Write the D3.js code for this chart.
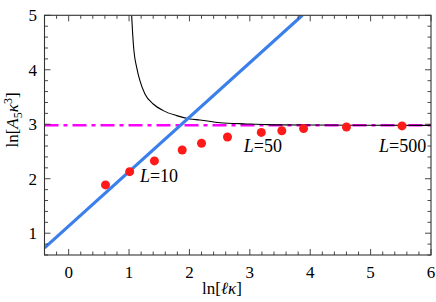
<!DOCTYPE html>
<html>
<head>
<meta charset="utf-8">
<script src="https://cdn.jsdelivr.net/npm/d3@7"></script>
<style>
  body { margin: 0; background: #fff; }
  text { font-family: "Liberation Serif", "Times New Roman", serif; fill: #000; }
</style>
</head>
<body>
<div id="chart"></div>
<script>
// measured data (ln[l kappa], ln[A5 kappa^3])
const pointX = [0.61, 1.01, 1.42, 1.88, 2.2, 2.63, 3.19, 3.53, 3.89, 4.6, 5.52];
const pointY = [1.886, 2.13, 2.327, 2.528, 2.651, 2.767, 2.85, 2.88, 2.92, 2.95, 2.97];

const curveX = [1.043, 1.06, 1.081, 1.126, 1.18, 1.263, 1.4, 1.566, 1.788, 2.008, 2.174, 2.505, 2.947, 3.278, 4.0, 5.0, 6.0];
const curveY = [5.0, 4.657, 4.35, 4.046, 3.8, 3.556, 3.372, 3.25, 3.158, 3.097, 3.079, 3.029, 3.006, 2.993, 2.985, 2.982, 2.98];

const lineX = [-0.4, 3.87];
const lineY = [0.73, 5.0];

const plateau = 2.98;

const xTicks = [0, 1, 2, 3, 4, 5, 6];
const yTicks = [1, 2, 3, 4, 5];

const labels = [
    { text: '10', x: 1.18, y: 1.947 },
    { text: '50', x: 2.9, y: 2.486 },
    { text: '500', x: 5.14, y: 2.486 }
];

const width = 436, height = 302;
const frame = { left: 44.5, right: 431, top: 15.3, bottom: 255 };

const svg = d3.select('#chart').append('svg')
    .attr('width', width)
    .attr('height', height);

const x = d3.scaleLinear().domain([-0.4, 6]).range([frame.left, frame.right]);
const y = d3.scaleLinear().domain([0.6, 5]).range([frame.bottom, frame.top]);

svg.append('clipPath').attr('id', 'clip')
    .append('rect')
    .attr('x', frame.left).attr('y', frame.top)
    .attr('width', frame.right - frame.left).attr('height', frame.bottom - frame.top);

const plot = svg.append('g').attr('clip-path', 'url(#clip)');

// dash-dot plateau
plot.append('line')
    .attr('x1', x(-0.4)).attr('x2', x(6))
    .attr('y1', y(plateau)).attr('y2', y(plateau))
    .attr('stroke', '#ff00ff')
    .attr('stroke-width', 2.5)
    .attr('stroke-dasharray', '14,5,4,5');

// black curve
plot.append('path')
    .datum(curveX.map((d, i) => [d, curveY[i]]))
    .attr('fill', 'none')
    .attr('stroke', '#000')
    .attr('stroke-width', 1.1)
    .attr('d', d3.line().x(d => x(d[0])).y(d => y(d[1])).curve(d3.curveMonotoneX));

// blue line
plot.append('path')
    .datum(lineX.map((d, i) => [d, lineY[i]]))
    .attr('fill', 'none')
    .attr('stroke', '#3a7fec')
    .attr('stroke-width', 3.2)
    .attr('d', d3.line().x(d => x(d[0])).y(d => y(d[1])));

// red points
plot.selectAll('.pt')
    .data(pointX.map((d, i) => [d, pointY[i]]))
    .enter().append('circle')
    .attr('class', 'pt')
    .attr('cx', d => x(d[0]))
    .attr('cy', d => y(d[1]))
    .attr('r', 4.5)
    .attr('fill', '#ff1a1a');

// L labels
const lab = svg.selectAll('.lab').data(labels).enter().append('text')
    .attr('class', 'lab')
    .attr('x', d => x(d.x))
    .attr('y', d => y(d.y))
    .attr('font-size', 18);
lab.append('tspan').attr('font-style', 'italic').text('L');
lab.append('tspan').text(d => '=' + d.text);

// frame
svg.append('rect')
    .attr('x', frame.left).attr('y', frame.top)
    .attr('width', frame.right - frame.left).attr('height', frame.bottom - frame.top)
    .attr('fill', 'none')
    .attr('stroke', '#333')
    .attr('stroke-width', 1.1);

// ticks on all four sides, pointing inward
const xMinor = d3.range(-0.4, 6.001, 0.2).map(v => Math.round(v * 10) / 10);
const yMinor = d3.range(0.6, 5.001, 0.2).map(v => Math.round(v * 10) / 10);
const isMajor = v => Math.abs(v - Math.round(v)) < 1e-6;

const ticks = svg.append('g').attr('stroke', '#333').attr('stroke-width', 0.9);
xMinor.forEach(v => {
    const len = isMajor(v) ? 6 : 3.5;
    ticks.append('line').attr('x1', x(v)).attr('x2', x(v)).attr('y1', frame.bottom).attr('y2', frame.bottom - len);
    ticks.append('line').attr('x1', x(v)).attr('x2', x(v)).attr('y1', frame.top).attr('y2', frame.top + len);
});
yMinor.forEach(v => {
    const len = isMajor(v) ? 6 : 3.5;
    ticks.append('line').attr('y1', y(v)).attr('y2', y(v)).attr('x1', frame.left).attr('x2', frame.left + len);
    ticks.append('line').attr('y1', y(v)).attr('y2', y(v)).attr('x1', frame.right).attr('x2', frame.right - len);
});

// tick labels
svg.selectAll('.xl').data(xTicks).enter().append('text')
    .attr('x', d => x(d))
    .attr('y', 278)
    .attr('text-anchor', 'middle')
    .attr('font-size', 17)
    .text(d => d);

svg.selectAll('.yl').data(yTicks).enter().append('text')
    .attr('x', 37)
    .attr('y', d => y(d) + 6)
    .attr('text-anchor', 'end')
    .attr('font-size', 17)
    .text(d => d);

// axis titles
const xt = svg.append('text')
    .attr('x', 222).attr('y', 294)
    .attr('text-anchor', 'middle')
    .attr('font-size', 17);
xt.append('tspan').text('ln[');
xt.append('tspan').attr('font-style', 'italic').text('ℓκ');
xt.append('tspan').text(']');

const yt = svg.append('text')
    .attr('transform', 'translate(18,120) rotate(-90)')
    .attr('text-anchor', 'middle')
    .attr('font-size', 17);
yt.append('tspan').text('ln[');
yt.append('tspan').attr('font-style', 'italic').text('A');
yt.append('tspan').attr('font-size', 12).attr('dy', 4).text('5');
yt.append('tspan').attr('font-style', 'italic').attr('dy', -4).text('κ');
yt.append('tspan').attr('font-size', 12).attr('dy', -6).text('3');
yt.append('tspan').attr('dy', 6).text(']');
</script>
</body>
</html>
